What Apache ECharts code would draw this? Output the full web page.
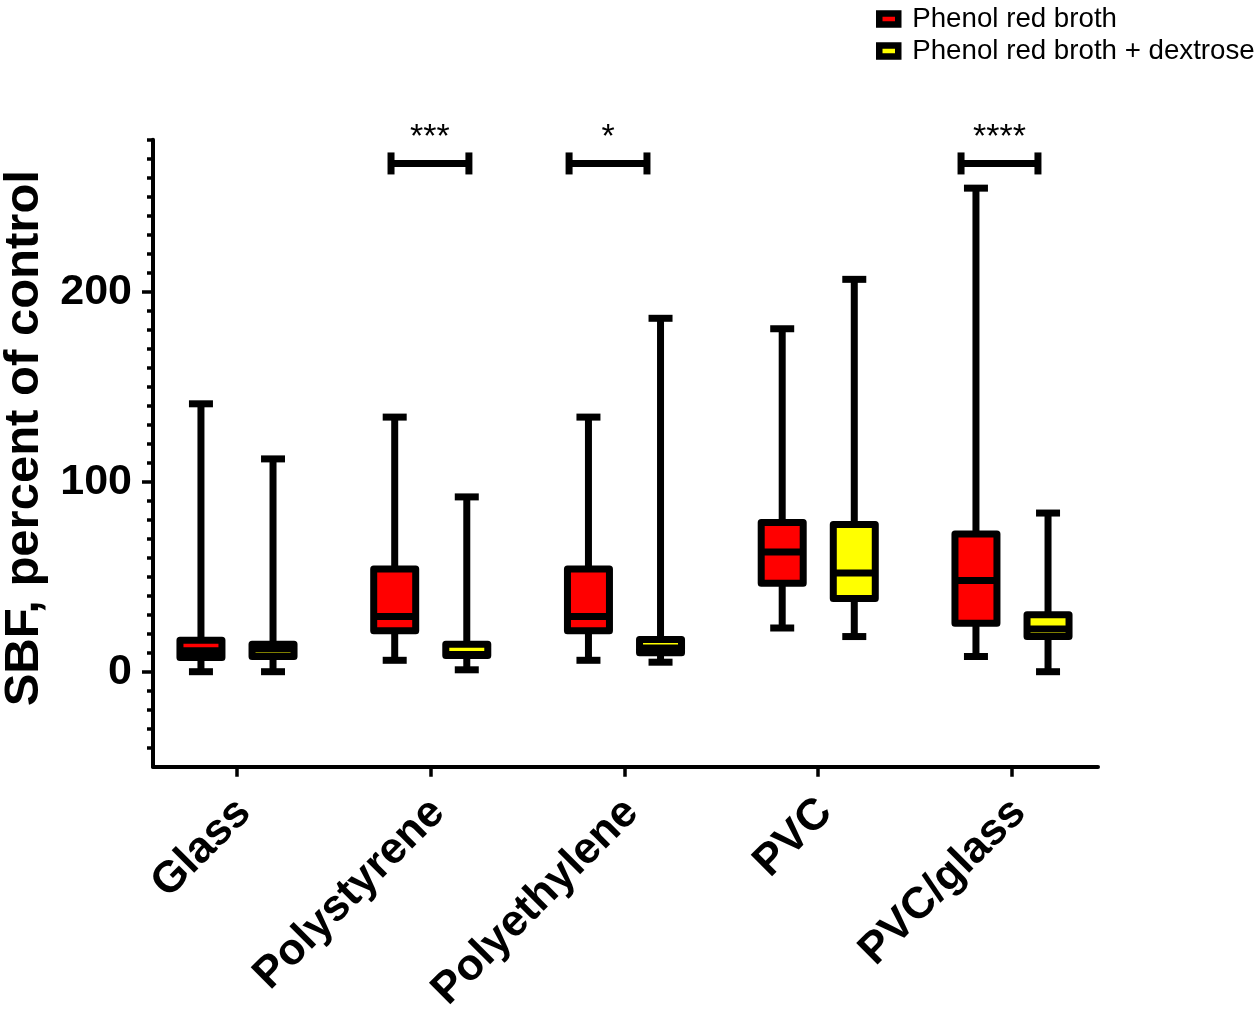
<!DOCTYPE html>
<html>
<head>
<meta charset="utf-8">
<script src="https://cdn.jsdelivr.net/npm/echarts@6/dist/echarts.min.js"></script>
<style>
html,body{margin:0;padding:0;background:#fff;}
#chart{width:1258px;height:1011px;}
</style>
</head>
<body>
<div id="chart"></div>
<script>
// ---- data ----
const categories = ['Glass', 'Polystyrene', 'Polyethylene', 'PVC', 'PVC/glass'];
const seriesNames = ['Phenol red broth', 'Phenol red broth + dextrose'];
// [min, Q1, median, Q3, max] per category
const redBroth = [
  [0, 7.5, 11, 16.5, 141],
  [6, 21.5, 29, 54, 134],
  [6, 21.5, 29, 54, 134],
  [23, 46.5, 63, 78.5, 180.5],
  [8, 25.5, 48, 72.5, 254.5]
];
const redBrothDextrose = [
  [0, 8, 12, 14.5, 112],
  [1, 8.5, 9, 14.5, 92],
  [5, 10, 12.5, 17, 186],
  [18.5, 38.5, 52, 77.5, 206.5],
  [0, 18.5, 22.5, 30, 83.5]
];
// significance brackets: [from, to] (category units), height, label
const sigFrom = [0.795, 1.714, 3.737];
const sigTo = [1.197, 2.116, 4.134];
const sigY = [267.5, 267.5, 267.5];
const sigLabel = ['***', '*', '****'];
const yLabelValues = [0, 100, 200];

// ---- styles ----
const colors = ['#ff0000', '#ffff00'];
const dodge = [-0.186, 0.186];
const LW = 7, HALF_BOX = 21, HALF_CAP = 12;
const FONT = '"Liberation Sans", Arial, sans-serif';

function boxRender(k) {
  return function (params, api) {
    const cat = api.value(0);
    const unit = api.size([1, 0])[0];
    const cx = api.coord([cat, 0])[0] + dodge[k] * unit;
    const yy = i => api.coord([cat, api.value(i)])[1];
    const yMin = yy(1), yQ1 = yy(2), yMed = yy(3), yQ3 = yy(4), yMax = yy(5);
    const ls = { stroke: '#000', lineWidth: LW, lineCap: 'butt' };
    return {
      type: 'group',
      children: [
        { type: 'line', shape: { x1: cx, y1: yMax, x2: cx, y2: yMin }, style: ls },
        { type: 'line', shape: { x1: cx - HALF_CAP, y1: yMax, x2: cx + HALF_CAP, y2: yMax }, style: ls },
        { type: 'line', shape: { x1: cx - HALF_CAP, y1: yMin, x2: cx + HALF_CAP, y2: yMin }, style: ls },
        { type: 'rect', shape: { x: cx - HALF_BOX, y: yQ3, width: 2 * HALF_BOX, height: yQ1 - yQ3 },
          style: { fill: colors[k], stroke: '#000', lineWidth: LW, lineJoin: 'round' } },
        { type: 'line', shape: { x1: cx - HALF_BOX, y1: yMed, x2: cx + HALF_BOX, y2: yMed }, style: ls }
      ]
    };
  };
}

function sigRender(params, api) {
  const p1 = api.coord([api.value(0), api.value(2)]);
  const p2 = api.coord([api.value(1), api.value(2)]);
  const ls = { stroke: '#000', lineWidth: LW, lineCap: 'butt' };
  return {
    type: 'group',
    children: [
      { type: 'line', shape: { x1: p1[0], y1: p1[1], x2: p2[0], y2: p2[1] }, style: ls },
      { type: 'line', shape: { x1: p1[0], y1: p1[1] - 11, x2: p1[0], y2: p1[1] + 11 }, style: ls },
      { type: 'line', shape: { x1: p2[0], y1: p2[1] - 11, x2: p2[0], y2: p2[1] + 11 }, style: ls },
      { type: 'text', x: (p1[0] + p2[0]) / 2, y: p1[1] - 26,
        style: { text: sigLabel[params.dataIndex], fill: '#000', font: '34px ' + FONT,
                 align: 'center', verticalAlign: 'middle' } }
    ]
  };
}

const minorTicks = [];
for (let v = -40; v <= 280; v += 10) minorTicks.push(v);

const chart = echarts.init(document.getElementById('chart'), null, { renderer: 'canvas' });
const option = {
  backgroundColor: '#fff',
  animation: false,
  legend: {
    orient: 'vertical',
    left: 871,
    top: 0,
    itemWidth: 19,
    itemHeight: 11,
    itemGap: 4,
    icon: 'rect',
    data: seriesNames.map((n, k) => ({ name: n, itemStyle: { color: colors[k], borderColor: '#000', borderWidth: 6.5 } })),
    textStyle: { fontSize: 27.7, lineHeight: 27, color: '#000', fontFamily: FONT, padding: [0, 0, 0, 9] }
  },
  grid: { left: 153, right: 160, top: 139.7, bottom: 244.3, containLabel: false, outerBoundsMode: 'none' },
  xAxis: {
    type: 'value',
    min: -0.4335,
    max: 4.4439,
    splitLine: { show: false },
    axisLine: { show: true, onZero: false, lineStyle: { color: '#000', width: 4 } },
    axisTick: { show: true, customValues: [0, 1, 2, 3, 4], length: 10, lineStyle: { color: '#000', width: 3.5 } },
    axisLabel: {
      customValues: [0, 1, 2, 3, 4],
      formatter: v => categories[Math.round(v)],
      rotate: 45, margin: 32, fontSize: 44, fontWeight: 'bold', color: '#000',
      fontFamily: FONT, verticalAlign: 'top', lineHeight: 20
    }
  },
  yAxis: [{
    type: 'value',
    min: -50,
    max: 280,
    position: 'left',
    splitLine: { show: false },
    axisLine: { show: true, onZero: false, lineStyle: { color: '#000', width: 4 } },
    axisTick: { show: true, customValues: yLabelValues, length: 11, lineStyle: { color: '#000', width: 3.5 } },
    axisLabel: {
      customValues: yLabelValues, margin: 21, fontSize: 43, fontWeight: 'bold', color: '#000',
      fontFamily: FONT
    },
    name: 'SBF, percent of control',
    nameLocation: 'middle',
    nameRotate: 90,
    nameGap: 94,
    nameTextStyle: { fontSize: 49, fontWeight: 'bold', color: '#000', fontFamily: FONT, padding: [0, 0, 0, 30] }
  }, {
    type: 'value',
    min: -50,
    max: 280,
    position: 'left',
    offset: 0,
    splitLine: { show: false },
    axisLine: { show: false, onZero: false },
    axisTick: { show: true, customValues: minorTicks, length: 6, lineStyle: { color: '#000', width: 3.5 } },
    axisLabel: { show: false }
  }],
  series: [
    {
      name: seriesNames[0], type: 'custom', renderItem: boxRender(0), itemStyle: { color: colors[0] },
      encode: { x: 0, y: [1, 2, 3, 4, 5] },
      data: redBroth.map((r, i) => [i].concat(r))
    },
    {
      name: seriesNames[1], type: 'custom', renderItem: boxRender(1), itemStyle: { color: colors[1] },
      encode: { x: 0, y: [1, 2, 3, 4, 5] },
      data: redBrothDextrose.map((r, i) => [i].concat(r))
    },
    {
      name: 'significance', type: 'custom', renderItem: sigRender, silent: true,
      encode: { x: [0, 1], y: 2 },
      data: sigFrom.map((f, i) => [f, sigTo[i], sigY[i]])
    }
  ]
};
chart.setOption(option);
</script>
</body>
</html>
